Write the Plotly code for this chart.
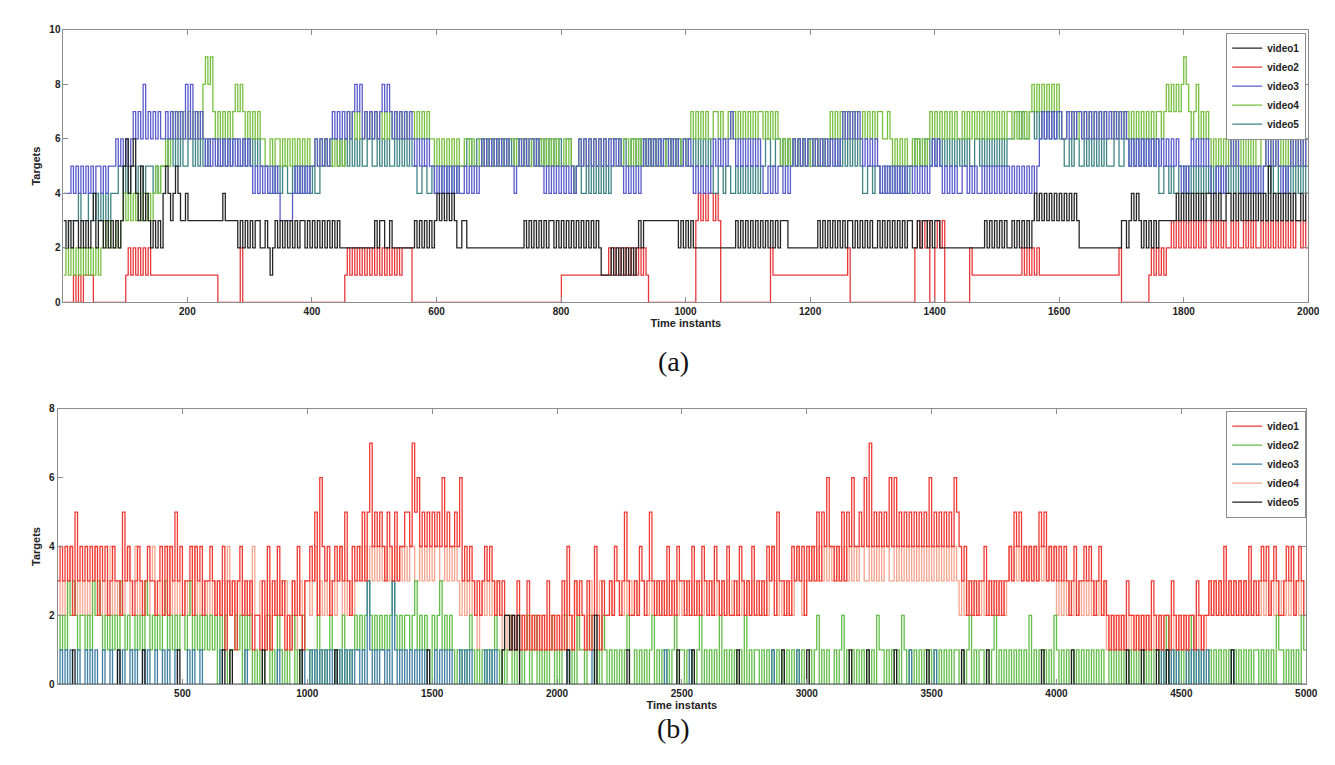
import plotly.graph_objects as go

# ---------------- data (a): targets per time instant, one digit per sample ----------------
TOP_START = 1
TOP_END = 2000
TOP_NAMES = ["video1", "video2", "video3", "video4", "video5"]

TOP_VIDEO1 = ("32323323232342332323 23235645643534323232 45434543343333333333 "
              "33334333332323232332 23212323232323233232 32323232323222222222 "
              "22222323322322222222 23232323234343434322 33222222222222222222 "
              "22222323232323233232 32323232323232321111 21212121212323333333 "
              "33333332323232222222 22222222223232323232 32323232333222222222 "
              "22232323232323233232 32323223232323232323 32232332323322222222 "
              "22222222223232323232 23232323234343434343 43434343222222222222 "
              "22222332343432323232 33333334343434343434 43434334434343434343 "
              "43435343434343433434")
TOP_VIDEO2 = ("00001010111100000000 00000121212121211111 11111111111111111111 "
              "11000000000200000000 00000000000000000000 00000000000001212121 "
              "21212121212121212222 00000000000000000000 00000000000000000000 "
              "00000000000000000000 11111111111111111112 12121212121212100000 "
              "00000000000000343434 43430000000000000000 00002111111111111111 "
              "11111111111111120000 00000000000000000000 00232323002323000000 "
              "00002111111111111111 11111212121211111111 11111111111111111111 "
              "11112000000000001212 12122323232323232323 32323232232322323232 "
              "23232323232323233232")
TOP_VIDEO3 = ("44454545454545545455 56565656767686767676 67676767686867676565 "
              "65656565656565654545 45454543333345454545 56565656767676767878 "
              "67676767878767676767 65656565545454545454 45454545656565656565 "
              "54565656656554545454 54545456565656565656 56565454545456565656 "
              "56656565565654545454 56565656765656565656 54454545545456565656 "
              "65656565656567676767 65656565454545454545 54545454565654545454 "
              "45545454454545454545 45454545454567676767 76676767767676767676 "
              "76767676565656565656 56565656545456565656 54454545565654545454 "
              "54565656545456565656")
TOP_VIDEO4 = ("12121212121212123232 23234343434343434545 56567676767676768989 "
              "76767676787876767676 65565665656565656565 56565656565656767676 "
              "67676767676767676767 76767676656565656565 56656556565656565656 "
              "65656565656565656565 56565456565656565656 65565665656565656565 "
              "56565656565676767676 67767667676767676767 76767676565656565656 "
              "56565656767676767676 67676767766765656565 56565656767676767676 "
              "67676767676767676767 76767676787878787878 76677676767676767676 "
              "67676767676767676767 76787878789876786767 65656565656565656565 "
              "56655656565656565656")
TOP_VIDEO5 = ("22333343334434343434 44554545545545554545 55665656556656565656 "
              "66556565665565656565 55445454554454545454 54455655665656565656 "
              "55665565656556565656 55445544544545454545 55665566565656565656 "
              "56655655665656565656 55665455445454545454 56655655665656565656 "
              "55665656566556565656 54455455445454545454 55665566565656565656 "
              "56655655665656565656 54455455445454545454 55665566565656565656 "
              "56565566565656565656 66776766776767676767 66556566556565656565 "
              "55665566565656565656 44554544554545454545 45455445454545454545 "
              "44554544554545454545")

# ---------------- data (b) ----------------
BOT_START = 0
BOT_END = 5000
BOT_NAMES = ["video1", "video2", "video3", "video4", "video5"]

BOT_VIDEO1 = ("34343425343434342434 23433253432343234332 34242435342334243423 "
              "34323241323134232312 21314132423121324213 34352643423434353243 "
              "43535745454354353445 54756454545454645445 46343432323434323232 "
              "21213121312121213121 21314213232131242132 23243235322324323532 "
              "32324232433232423243 23243232422324323242 32324342533232434342 "
              "43435354644343535464 45464745454546464545 45454545464545454546 "
              "54342323233423232323 34354534343435453434 34343234233434323423 "
              "21212121322121212132 12122132121212213212 23232324232323232423 "
              "23434234322343423432")
BOT_VIDEO2 = ("21213232122121323212 12121321211212132121 21231212122123121212 "
              "12120212011212021201 01012010210101201021 10102010121010201012 "
              "12123212121212321212 21231212102123121210 10101210101010121010 "
              "12010101201201010120 10121010211012101021 01010101200101010120 "
              "10101012011010101201 01010201010101020101 10101010101010101010 "
              "01012010100101201010 10101010211010101021 01010101010101010101 "
              "10101201011010120101 01010101020101010102 10101010101010101010 "
              "01010101010101010101 10102010101010201010 01010101010101010101 "
              "10101010211010101021")
BOT_VIDEO3 = ("01010100100101010010 01001010010100101001 00101001000010100100 "
              "00000100000000010000 00000000100000000010 01010101010101010101 "
              "10103101011010310101 01010101000101010100 01010100000101010000 "
              "00000000000000000000 00001000000000100000 00000000000000000000 "
              "00010000000001000000 00000000000000000000 00000010000000001000 "
              "00000000000000000000 00000000000000000000 01000000000100000000 "
              "00000000000000000000 00000000000000000000 00000000000000000000 "
              "00000000000000000000 00101010100010101010 10000000001000000000 "
              "00000000000000000000")
BOT_VIDEO4 = ("32323432323232343232 34232323423423232342 23234232322323423232 "
              "32323232423232323242 23123123232312312323 32342323233234232323 "
              "34343434343434343434 34433434343443343434 32323232123232323212 "
              "12121212121212121212 21232123122123212312 23233223232323322323 "
              "23232323232323232323 32323232323232323232 23232343232323234323 "
              "34343434343434343434 34433434343443343434 34343434343434343434 "
              "32323232323232323232 34343434343434343434 23232323232323232323 "
              "12121212121212121212 21212121212121212121 23232323232323232323 "
              "32323232323232323232")
BOT_VIDEO5 = ("00000010000000000000 00001000000000100000 00000000100000000000 "
              "00000010010000000000 00100000000000000100 00000000000100000000 "
              "00000000000000000000 00000000100000000000 00000000000000000012 "
              "21212000000000000000 00001000000000020000 00000000100000000000 "
              "00000000100000100000 00000000000010000000 00000000001000000000 "
              "10000000000000000100 00001000000000010000 00000000100000000000 "
              "00100000000010000000 00000000000000100000 00000010000000000000 "
              "00000000100000100000 10001000000000000000 00000000001000000000 "
              "00000000000000000000")

TOP_TICKS = [200, 400, 600, 800, 1000, 1200, 1400, 1600, 1800, 2000]
BOT_TICKS = [500, 1000, 1500, 2000, 2500, 3000, 3500, 4000, 4500, 5000]

# ---------------- styles ----------------
W, H = 1335, 765
TOP_COLORS = {"video1": "#262626", "video2": "#e8383a", "video3": "#5a5ccc",
              "video4": "#78c040", "video5": "#3f8585"}
BOT_COLORS = {"video1": "#f03a34", "video2": "#62be48", "video3": "#3e7fa4",
              "video4": "#f6a48e", "video5": "#1e1e1e"}
TOP_DRAW_ORDER = ["video2", "video5", "video4", "video3", "video1"]
BOT_DRAW_ORDER = ["video4", "video2", "video3", "video1", "video5"]


def digits(s):
    return [int(c) for c in s if c.isdigit()]


def steps(vals, start, end):
    step = (end - start) / len(vals)
    xs = [start + step * i for i in range(len(vals))] + [end]
    ys = list(vals) + [vals[-1]]
    return xs, ys


top_data = dict(zip(TOP_NAMES, [TOP_VIDEO1, TOP_VIDEO2, TOP_VIDEO3, TOP_VIDEO4, TOP_VIDEO5]))
bot_data = dict(zip(BOT_NAMES, [BOT_VIDEO1, BOT_VIDEO2, BOT_VIDEO3, BOT_VIDEO4, BOT_VIDEO5]))

fig = go.Figure()
for name in TOP_DRAW_ORDER:
    xs, ys = steps(digits(top_data[name]), TOP_START, TOP_END)
    fig.add_trace(go.Scatter(x=xs, y=ys, mode="lines", name=name,
                             line=dict(color=TOP_COLORS[name], width=1.3, shape="hv"),
                             xaxis="x", yaxis="y", legend="legend",
                             legendrank=TOP_NAMES.index(name) + 1))
for name in BOT_DRAW_ORDER:
    xs, ys = steps(digits(bot_data[name]), BOT_START, BOT_END)
    fig.add_trace(go.Scatter(x=xs, y=ys, mode="lines", name=name,
                             line=dict(color=BOT_COLORS[name], width=1.3, shape="hv"),
                             xaxis="x2", yaxis="y2", legend="legend2",
                             legendrank=BOT_NAMES.index(name) + 1))

tickfont = dict(family="Liberation Sans", size=10, color="#222", weight="bold")
titlefont = dict(family="Liberation Sans", size=11, color="#222", weight="bold")
axis_common = dict(showline=True, linecolor="#8c8c8c", linewidth=1, mirror="allticks",
                   ticks="inside", ticklen=5, tickcolor="#8c8c8c", showgrid=False,
                   zeroline=False, tickfont=tickfont)
legend_common = dict(xanchor="right", yanchor="top", bgcolor="white",
                     bordercolor="#8c8c8c", borderwidth=1, tracegroupgap=0, itemwidth=30,
                     font=dict(family="Liberation Sans", size=10, color="#222", weight="bold"))

fig.update_layout(
    width=W, height=H, margin=dict(l=0, r=0, t=0, b=0),
    paper_bgcolor="white", plot_bgcolor="white",
    xaxis=dict(domain=[56 / W, 1312 / W], range=[TOP_START, TOP_END], tickvals=TOP_TICKS,
               anchor="y", title=dict(text="Time instants", font=titlefont, standoff=2),
               **axis_common),
    yaxis=dict(domain=[1 - 293 / H, 1 - 16 / H], range=[0, 10], dtick=2, anchor="x",
               title=dict(text="Targets", font=titlefont, standoff=6), **axis_common),
    xaxis2=dict(domain=[50 / W, 1310 / W], range=[BOT_START, BOT_END], tickvals=BOT_TICKS,
                anchor="y2", title=dict(text="Time instants", font=titlefont, standoff=2),
                **axis_common),
    yaxis2=dict(domain=[1 - 681 / H, 1 - 401 / H], range=[0, 8], dtick=2, anchor="x2",
                title=dict(text="Targets", font=titlefont, standoff=6), **axis_common),
    legend=dict(x=1310 / W, y=1 - 19 / H, **legend_common),
    legend2=dict(x=1310 / W, y=1 - 403 / H, **legend_common),
    showlegend=True,
    annotations=[
        dict(text="(a)", x=672 / W, y=1 - 353 / H, xref="paper", yref="paper",
             showarrow=False, font=dict(family="Liberation Serif", size=28, color="#111")),
        dict(text="(b)", x=672 / W, y=1 - 744 / H, xref="paper", yref="paper",
             showarrow=False, font=dict(family="Liberation Serif", size=28, color="#111")),
    ],
)

fig.write_html("out.html")
